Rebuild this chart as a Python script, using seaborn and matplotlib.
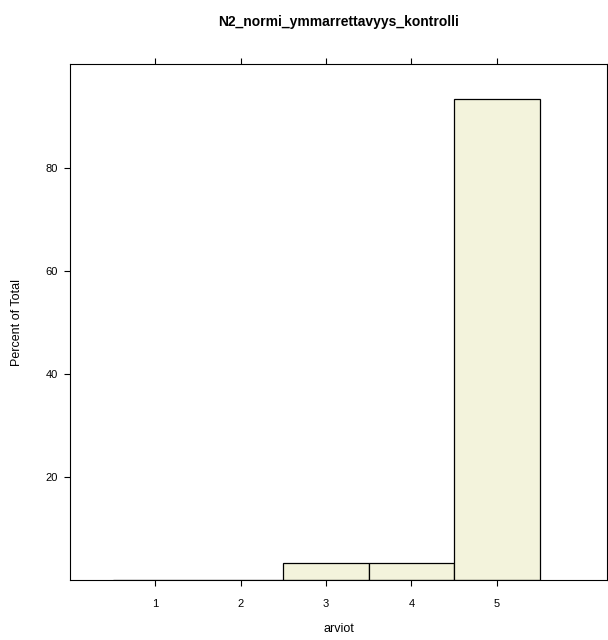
import matplotlib
matplotlib.use("Agg")
import matplotlib.pyplot as plt
import seaborn as sns
import pandas as pd

categories = [1, 2, 3, 4, 5]
percent = [0.0, 0.0, 3.33, 3.33, 93.33]
xticks = [1, 2, 3, 4, 5]
yticks = [20, 40, 60, 80]

sns.set_style("white")
plt.rcParams['font.family'] = ['Liberation Sans', 'DejaVu Sans']
plt.rcParams['text.color'] = 'black'
plt.rcParams['axes.labelcolor'] = 'black'
plt.rcParams['xtick.color'] = 'black'
plt.rcParams['ytick.color'] = 'black'

df = pd.DataFrame({"arviot": categories, "pct": percent})

fig = plt.figure(figsize=(6.08, 6.4), dpi=100)
ax = fig.add_axes([70/608, 1-580/640, 537/608, 516/640])

sns.histplot(data=df, x="arviot", weights="pct", discrete=True, ax=ax,
             color="#F3F3DC", edgecolor="black", linewidth=0.9, alpha=1.0)

ax.set_xlim(0.0, 6.29)
ax.set_ylim(0, 100.2)
ax.set_xticks(xticks)
ax.set_xticklabels([str(t) for t in xticks])
ax.set_yticks(yticks)
ax.set_yticklabels([str(t) for t in yticks])
ax.tick_params(axis='x', direction='out', length=4, width=0.8, top=True, bottom=True,
               labeltop=False, labelsize=8, pad=10, colors='black')
ax.tick_params(axis='y', direction='out', length=4, width=0.8, left=True, right=False,
               labelsize=8, pad=5, colors='black')
for s in ax.spines.values():
    s.set_visible(True)
    s.set_color('black')
    s.set_linewidth(0.8)

ax.set_xlabel("arviot", fontsize=9, labelpad=10, color='black')
ax.set_ylabel("Percent of Total", fontsize=9, labelpad=16, color='black')
fig.text(339/608, 1-22/640, "N2_normi_ymmarrettavyys_kontrolli", ha='center', va='center',
         fontsize=10, fontweight='bold', color='black')

fig.savefig("out.png", dpi=100)
